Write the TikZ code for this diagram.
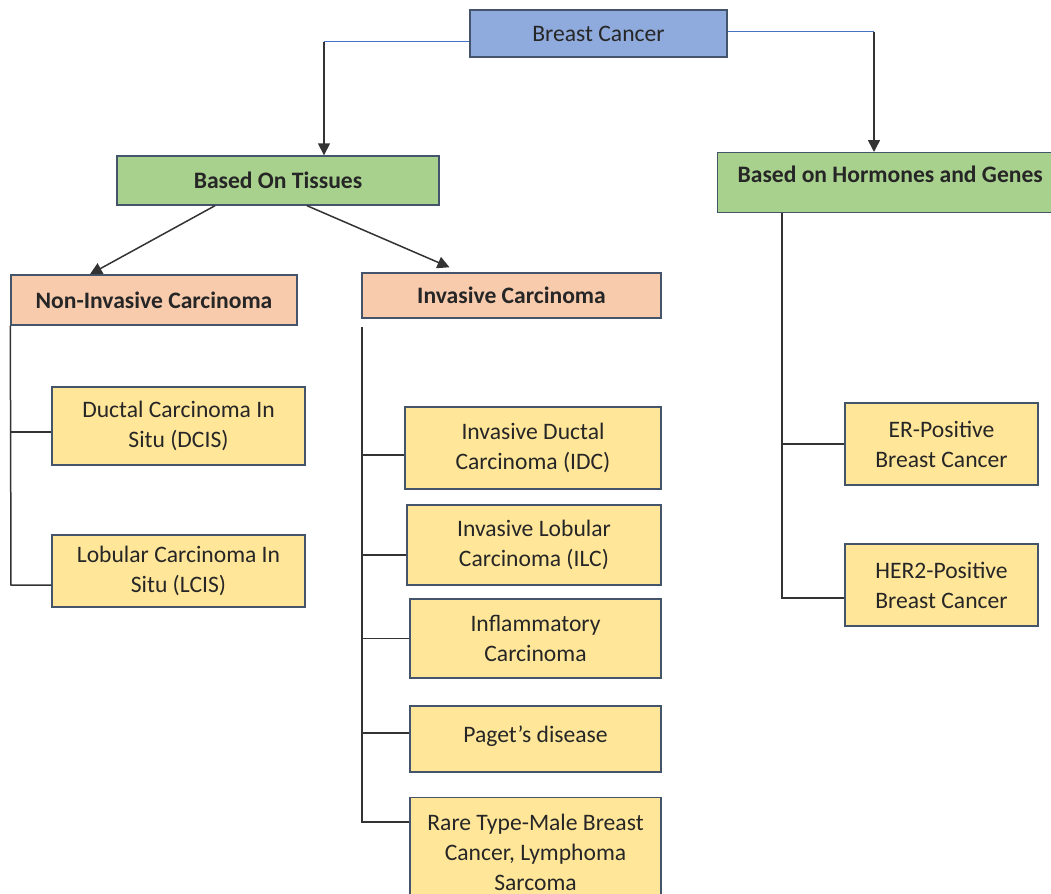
\documentclass[tikz,border=0pt]{standalone}
\usepackage{fontspec}
\setmainfont{Carlito}
\usepackage{xcolor}
\usetikzlibrary{arrows.meta, positioning, calc}

\definecolor{rootblue}{HTML}{8FAADC}
\definecolor{groupgreen}{HTML}{A9D18E}
\definecolor{typepeach}{HTML}{F8CBAD}
\definecolor{leafyellow}{HTML}{FFE699}
\definecolor{boxedge}{HTML}{44546A}
\definecolor{linkgray}{HTML}{333333}
\definecolor{linkblue}{HTML}{4472C4}

\begin{document}
\begin{tikzpicture}[x=0.5pt, y=-0.5pt, font=\fontsize{11.8}{15}\selectfont]
\tikzstyle{box} = [rectangle, draw=boxedge, line width=0.7pt, inner sep=0pt, align=center, text=black!85]
\tikzstyle{root} = [box, fill=rootblue, minimum width=128.5pt, minimum height=23.5pt]
\tikzstyle{group} = [box, fill=groupgreen, font=\fontsize{11.8}{15}\selectfont\bfseries]
\tikzstyle{kind} = [box, fill=typepeach, font=\fontsize{11.8}{15}\selectfont\bfseries]
\tikzstyle{leaf} = [box, fill=leafyellow]
\tikzstyle{link} = [draw=linkgray, line width=0.75pt]
\tikzstyle{arrow} = [link, -{Triangle[length=6pt, width=6pt]}]

\useasboundingbox (0,0) rectangle (1051,894);

% Top level
\node (cancer) [root] at (598.5,33.5) {Breast Cancer};
\node (tissue) [group, minimum width=161pt, minimum height=24.5pt] at (278,180.5) {Based On Tissues};
\node (hormone) [group, anchor=north west, minimum width=172.5pt, text height=15pt, text depth=15pt] at (717,152) {Based on Hormones and Genes};

% Based on tissues
\node (noninv) [kind, minimum width=143pt, minimum height=25pt] at (154,300) {Non-Invasive Carcinoma};
\node (inv) [kind, minimum width=149.5pt, minimum height=22.5pt] at (511.5,295.5) {Invasive Carcinoma};
\node (dcis) [leaf, minimum width=126.5pt, minimum height=39pt] at (178.5,426) {Ductal Carcinoma In\\Situ (DCIS)};
\node (lcis) [leaf, minimum width=126.5pt, minimum height=36pt] at (178.5,571) {Lobular Carcinoma In\\Situ (LCIS)};
\node (idc) [leaf, minimum width=128pt, minimum height=41pt] at (533,448) {Invasive Ductal\\Carcinoma (IDC)};
\node (ilc) [leaf, minimum width=127pt, minimum height=40pt] at (534,545) {Invasive Lobular\\Carcinoma (ILC)};
\node (inflam) [leaf, minimum width=125.5pt, minimum height=39.5pt] at (535.5,638.5) {Inflammatory\\Carcinoma};
\node (paget) [leaf, minimum width=125.5pt, minimum height=33pt, text height=9pt, text depth=6pt] at (535.5,739) {Paget’s disease};
\node (rare) [leaf, anchor=north, minimum width=125.5pt, minimum height=55pt] at (535.5,797) {Rare Type-Male Breast\\Cancer, Lymphoma\\Sarcoma};

% Based on hormones and genes
\node (er) [leaf, minimum width=96.5pt, minimum height=41pt] at (941.5,444) {ER-Positive\\Breast Cancer};
\node (her) [leaf, minimum width=96.5pt, minimum height=41pt] at (941.5,585) {HER2-Positive\\Breast Cancer};

% Trunk ends
\coordinate (leftturn) at (324,41.5);
\coordinate (rightturn) at (874,31.5);
\coordinate (nibottom) at (11,585);
\coordinate (invtop) at (362,327);
\coordinate (invbottom) at (362,822);
\coordinate (hbottom) at (782,598);

% Connections
\draw [link, draw=linkblue] ([yshift=-4pt]cancer.west) -- (leftturn);
\draw [arrow] (leftturn) -- (leftturn |- tissue.north);
\draw [link, draw=linkblue] ([yshift=1pt]cancer.east) -- (rightturn);
\draw [arrow] (rightturn) -- (rightturn |- hormone.north);
\draw [arrow] ([xshift=-31.5pt]tissue.south) -- ([xshift=-32pt]noninv.north);
\draw [arrow] ([xshift=14.5pt]tissue.south) -- ([xshift=-31pt, yshift=2.5pt]inv.north);

\draw [link] (noninv.south west) -- (nibottom) -- (nibottom -| lcis.west);
\draw [link] ([yshift=-3pt]dcis.west) -- ([yshift=-3pt]dcis.west -| nibottom);

\draw [link] (invtop) -- (invbottom) -- (invbottom -| rare.west);
\draw [link] ([yshift=-3.5pt]idc.west) -- ([yshift=-3.5pt]idc.west -| invtop);
\draw [link] ([yshift=-5pt]ilc.west) -- ([yshift=-5pt]ilc.west -| invtop);
\draw [link] (inflam.west) -- (inflam.west -| invtop);
\draw [link] ([yshift=3pt]paget.west) -- ([yshift=3pt]paget.west -| invtop);

\draw [link] (hormone.south west -| hbottom) -- (hbottom) -- (hbottom -| her.west);
\draw [link] (er.west) -- (er.west -| hbottom);

\end{tikzpicture}
\end{document}
